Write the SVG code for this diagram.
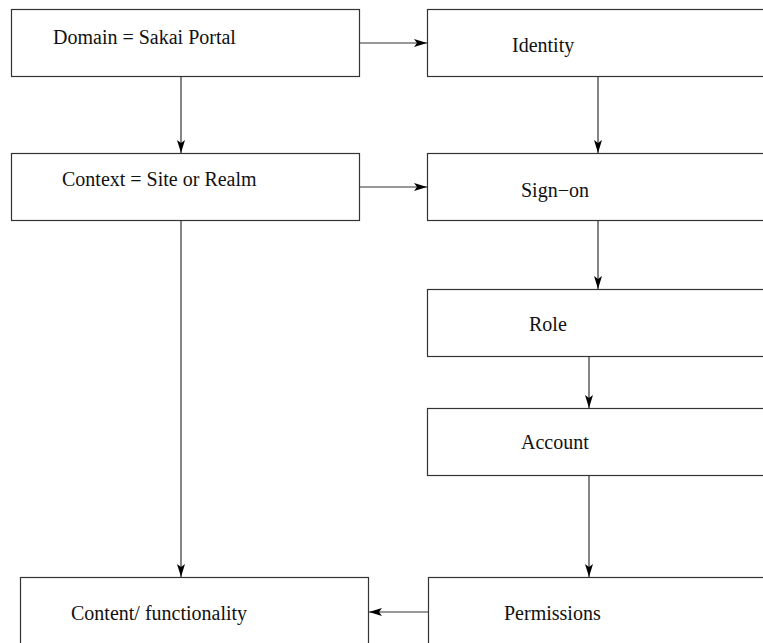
<svg xmlns="http://www.w3.org/2000/svg" width="763" height="643" viewBox="0 0 763 643">
<defs>
<marker id="ah" markerWidth="14" markerHeight="8" refX="13" refY="4" orient="auto" markerUnits="userSpaceOnUse">
<path d="M0,0 L13,4 L0,8 L3,4 z" fill="#000"/>
</marker>
<style>
.box{fill:#fff;stroke:#333;stroke-width:1.2}
.lbl{font-family:"Liberation Serif","Times New Roman",serif;font-size:20px;fill:#111}
.cn{stroke:#333;stroke-width:1.2;fill:none;marker-end:url(#ah)}
</style>
</defs>
<rect width="763" height="643" fill="#fff"/>
<g id="connectors">
<line class="cn" x1="359" y1="43" x2="427" y2="43"/>
<line class="cn" x1="181" y1="77" x2="181" y2="153"/>
<line class="cn" x1="598" y1="77" x2="598" y2="153"/>
<line class="cn" x1="359" y1="187" x2="427" y2="187"/>
<line class="cn" x1="598" y1="221" x2="598" y2="289"/>
<line class="cn" x1="589" y1="356" x2="589" y2="408"/>
<line class="cn" x1="589" y1="475" x2="589" y2="577"/>
<line class="cn" x1="181" y1="221" x2="181" y2="577"/>
<line class="cn" x1="428" y1="612" x2="369" y2="612"/>
</g>
<g id="domain"><rect class="box" x="11.5" y="9.5" width="348" height="67"/><text class="lbl" x="53" y="44">Domain = Sakai Portal</text></g>
<g id="identity"><rect class="box" x="427.5" y="9.5" width="400" height="67"/><text class="lbl" x="512" y="52">Identity</text></g>
<g id="context"><rect class="box" x="11.5" y="153.5" width="348" height="67"/><text class="lbl" x="62" y="186">Context = Site or Realm</text></g>
<g id="signon"><rect class="box" x="427.5" y="153.5" width="400" height="67"/><text class="lbl" x="521" y="197">Sign−on</text></g>
<g id="role"><rect class="box" x="427.5" y="289.5" width="400" height="67"/><text class="lbl" x="529" y="331">Role</text></g>
<g id="account"><rect class="box" x="427.5" y="408.5" width="400" height="67"/><text class="lbl" x="521" y="449">Account</text></g>
<g id="content"><rect class="box" x="20.5" y="577.5" width="348" height="100"/><text class="lbl" x="71" y="620">Content/ functionality</text></g>
<g id="permissions"><rect class="box" x="428.5" y="577.5" width="400" height="100"/><text class="lbl" x="504" y="620">Permissions</text></g>
</svg>
